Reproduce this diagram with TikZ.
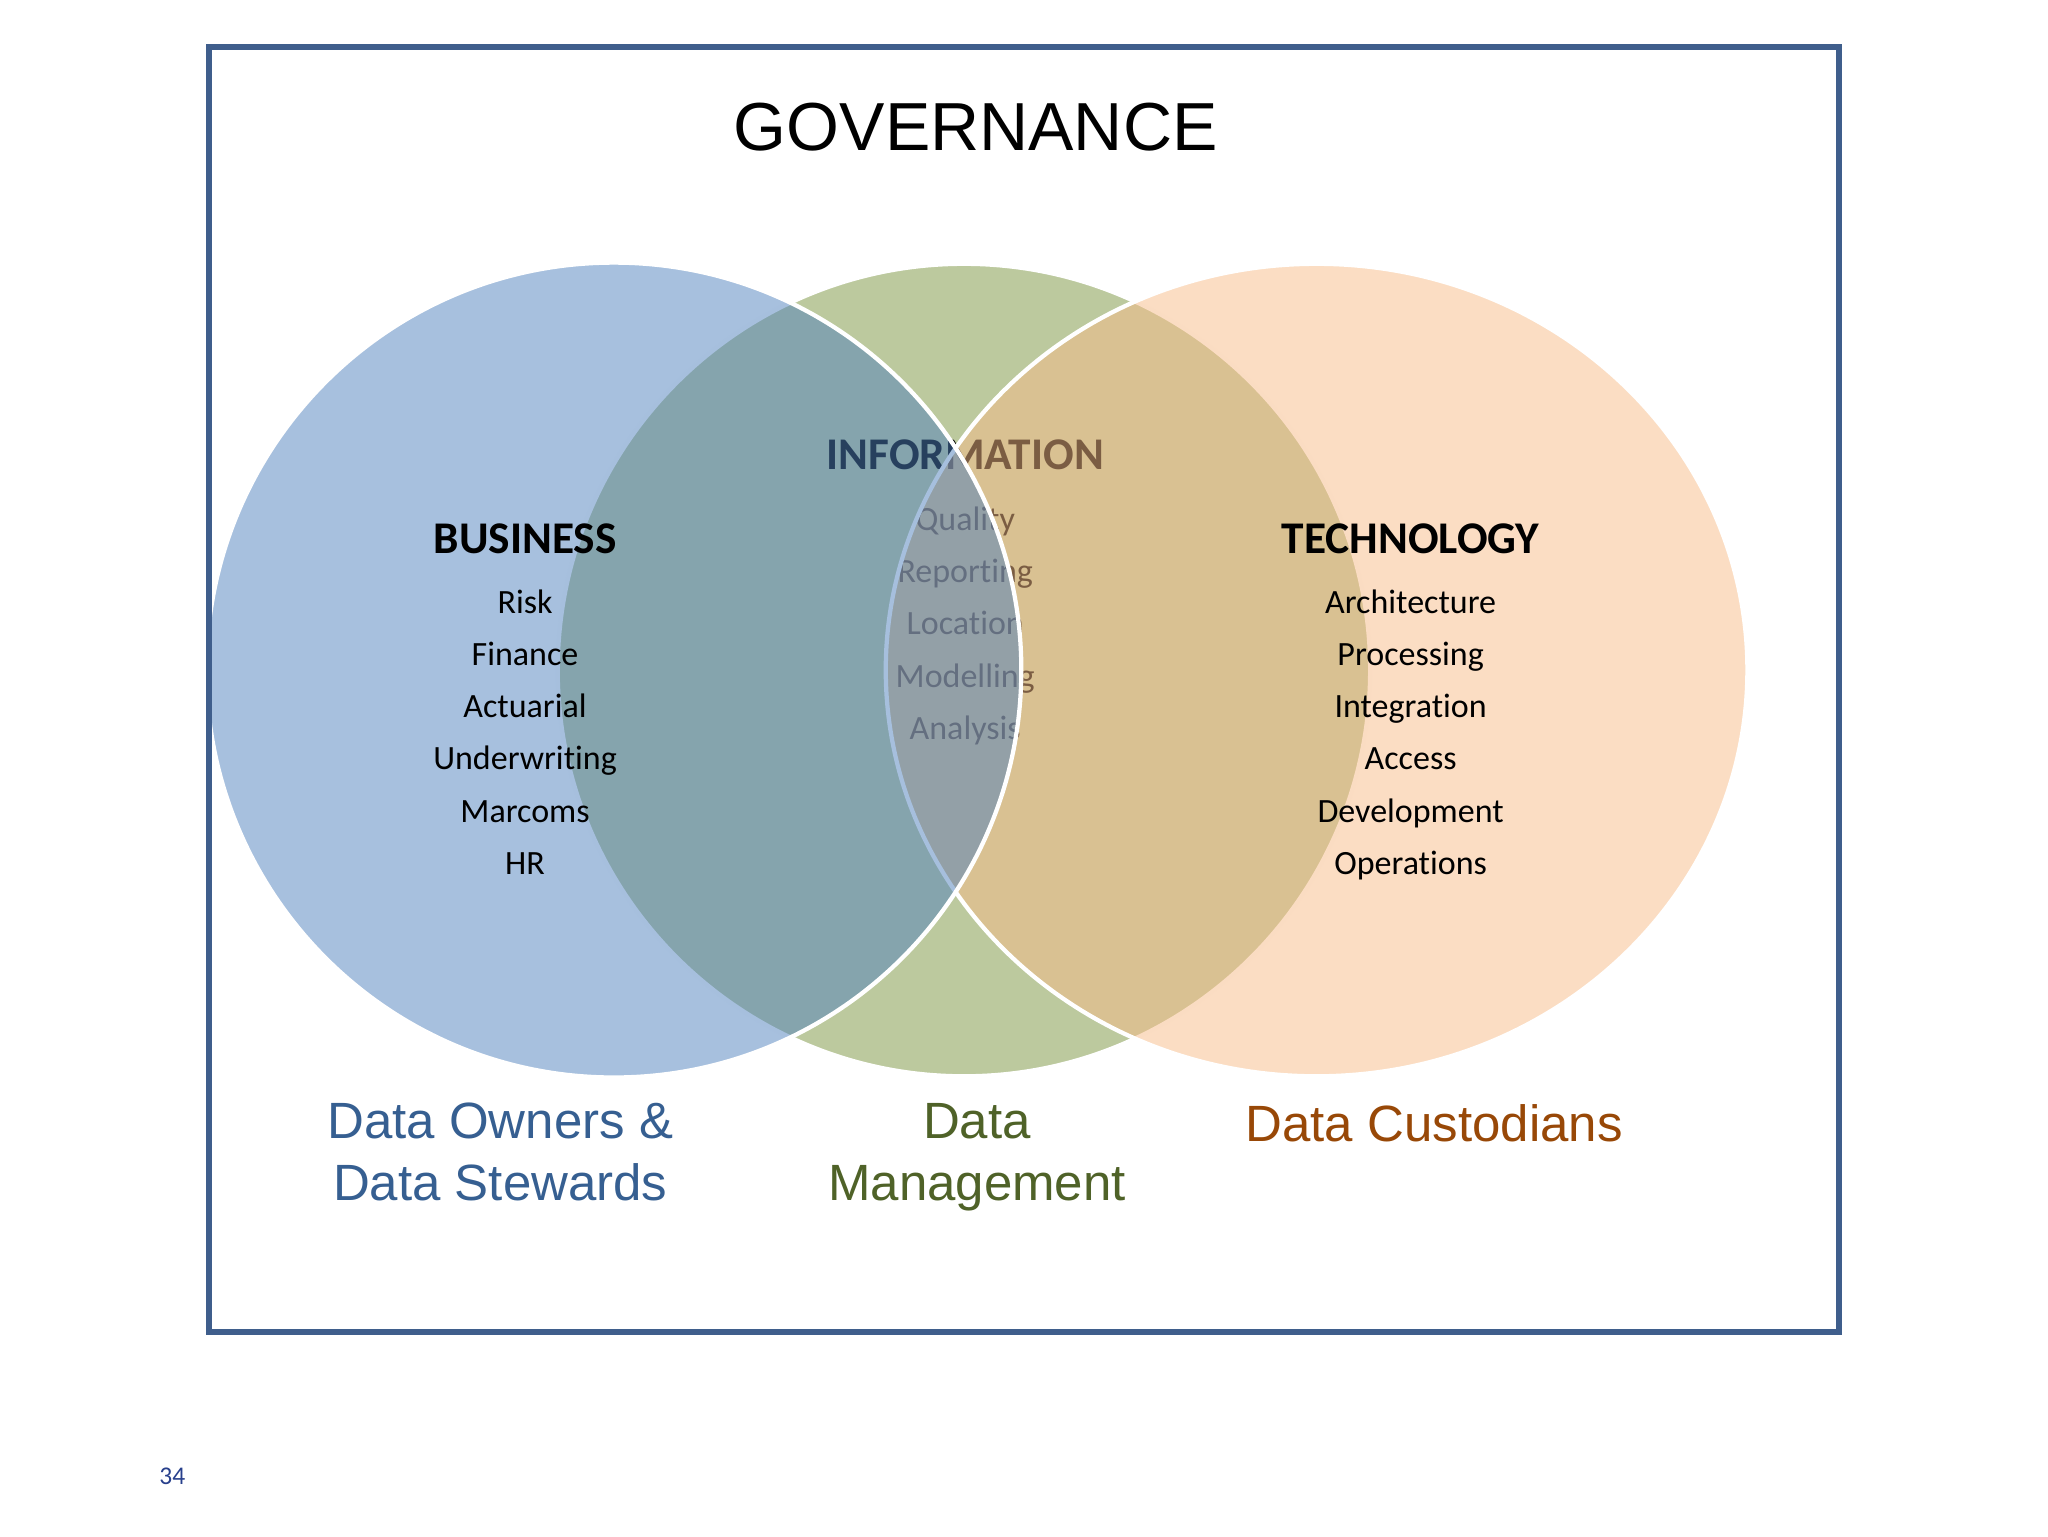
\documentclass[tikz,border=0pt]{standalone}
\usepackage{fontspec}
\setmainfont[Ligatures=NoCommon]{Carlito}
\newfontfamily\arialfont{Liberation Sans}
\usetikzlibrary{shapes.geometric}

\definecolor{bizblue}{RGB}{79,129,189}
\definecolor{infogreen}{RGB}{188,201,158}
\definecolor{techpeach}{RGB}{247,187,135}
\definecolor{framecol}{RGB}{63,94,140}
\definecolor{ownerblue}{RGB}{54,95,145}
\definecolor{mgmtgreen}{RGB}{79,98,40}
\definecolor{custbrown}{RGB}{152,72,7}
\definecolor{pagecol}{RGB}{40,64,140}

\tikzstyle{bizset} = [circle, minimum size=10.11cm, inner sep=0pt, draw=white, line width=1.5pt, fill=bizblue, fill opacity=.5]
\tikzstyle{infoset} = [circle, minimum size=10.08cm, inner sep=0pt, draw=white, line width=1.5pt, fill=infogreen]
\tikzstyle{techset} = [ellipse, minimum width=10.69cm, minimum height=10.08cm, inner sep=0pt, draw=white, line width=1.5pt, fill=techpeach, fill opacity=.5]
\tikzstyle{heading} = [font=\fontsize{16}{19}\selectfont\bfseries, text height=11pt, text depth=3pt]
\tikzstyle{item} = [font=\fontsize{12}{14}\selectfont, text height=8.5pt, text depth=2.5pt]
\tikzstyle{role} = [font=\arialfont\fontsize{18}{22}\selectfont, align=center]
\tikzstyle{frame} = [draw=framecol, line width=2pt]

\begin{document}
\begin{tikzpicture}[x=0.0162cm, y=-0.0162cm, node distance=0.648cm]
	\useasboundingbox (0,0) rectangle (1568,1176);
	\node (gov) [font=\arialfont\fontsize{24}{29}\selectfont] at (747,97) {GOVERNANCE};

	% middle set first, its words lie under the two others
	\node (infoset) [infoset] at (738,513) {};
	\node (info) [heading] at (739,351) {INFORMATION};
	\node (quality) [item, below of=info, yshift=-.14cm] {Quality};
	\node (reporting) [item, below of=quality] {Reporting};
	\node (location) [item, below of=reporting] {Location};
	\node (modelling) [item, below of=location] {Modelling};
	\node (analysis) [item, below of=modelling] {Analysis};

	\node (techset) [techset] at (1008,513) {};
	\node (bizset) [bizset] at (470,513) {};

	\node (bus) [heading] at (402,415) {BUSINESS};
	\node (risk) [item, below of=bus, yshift=-.13cm] {Risk};
	\node (finance) [item, below of=risk] {Finance};
	\node (actuarial) [item, below of=finance] {Actuarial};
	\node (underwriting) [item, below of=actuarial] {Underwriting};
	\node (marcoms) [item, below of=underwriting] {Marcoms};
	\node (hr) [item, below of=marcoms] {HR};

	\node (tech) [heading] at (1080,415) {TECHNOLOGY};
	\node (architecture) [item, below of=tech, yshift=-.13cm] {Architecture};
	\node (processing) [item, below of=architecture] {Processing};
	\node (integration) [item, below of=processing] {Integration};
	\node (access) [item, below of=integration] {Access};
	\node (development) [item, below of=access] {Development};
	\node (operations) [item, below of=development] {Operations};

	%\node (roles) ...
	\node (owners) [role, text=ownerblue] at (383,882) {Data Owners \&\\Data Stewards};
	\node (mgmt) [role, text=mgmtgreen] at (748,886) {Data\\Management};
	\node (cust) [role, text=custbrown] at (1098,860) {Data Custodians};

	\draw [frame] (160,36) rectangle (1408,1020);
	\node (page) [font=\fontsize{9}{11}\selectfont, text=pagecol] at (132,1130) {34};
\end{tikzpicture}
\end{document}
